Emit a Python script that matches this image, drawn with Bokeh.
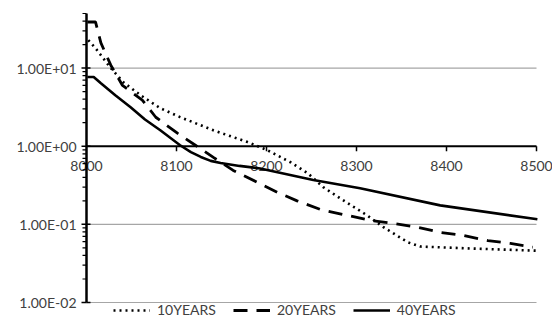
import math
from bokeh.plotting import figure
from bokeh.models import Range1d, Legend, LegendItem
from bokeh.core.properties import value
from bokeh.embed import file_html
from bokeh.resources import INLINE

# ---- data ----
x10 = [8002, 8010, 8027, 8041, 8060, 8082, 8104, 8141, 8179, 8201, 8227, 8246,
       8263, 8282, 8312, 8330, 8357, 8371, 8430, 8501]
y10 = [22.8, 18.0, 10.0, 6.6, 4.5, 3.07, 2.36, 1.6, 1.13, 0.89, 0.62, 0.45,
       0.30, 0.215, 0.13, 0.092, 0.059, 0.052, 0.049, 0.046]

x20 = [8001, 8010, 8016, 8027, 8040, 8062, 8077, 8101, 8121, 8141, 8163, 8190,
       8212, 8234, 8260, 8290, 8316, 8341, 8368, 8393, 8419, 8446, 8471, 8496]
y20 = [38.9, 39.0, 21.0, 10.9, 6.0, 3.9, 2.35, 1.47, 1.03, 0.72, 0.49, 0.345,
       0.257, 0.20, 0.155, 0.13, 0.112, 0.103, 0.092, 0.079, 0.072, 0.062, 0.057, 0.051]

x40 = [8001, 8008, 8016, 8032, 8049, 8065, 8082, 8104, 8116, 8127, 8138, 8149,
       8170, 8193, 8252, 8304, 8393, 8501]
y40 = [7.7, 7.7, 6.4, 4.5, 3.16, 2.2, 1.6, 1.03, 0.84, 0.73, 0.65, 0.61,
       0.56, 0.52, 0.37, 0.29, 0.175, 0.116]

x_ticks = [8000, 8100, 8200, 8300, 8400, 8500]
x_tick_labels = ["8000", "8100", "8200", "8300", "8400", "8500"]
x_cross = 1.0          # x axis crosses the y axis at 1.00E+00
y_ticks = [0.01, 0.1, 1, 10]
y_tick_labels = ["1.00E-02", "1.00E-01", "1.00E+00", "1.00E+01"]
y_minor = [m * 10.0 ** e for e in (-2, -1, 0, 1) for m in range(2, 10) if m * 10.0 ** e <= 50]

X0, X1 = 8000, 8500     # plotted x extent
Y0, Y1 = 0.01, 50       # plotted y extent

FONT = "Lato"
TXT = "#404040"

# ---- layout (screen pixels) ----
W, H = 552, 323
L, R, T, B = 86, 536, 13, 302            # plot area edges
ppx = (R - L) / (X1 - X0)                 # px per x unit
ppd = (B - T) / (math.log10(Y1) - math.log10(Y0))   # px per decade
xr = Range1d(X0 - L / ppx, X1 + (W - R) / ppx)
yr = Range1d(10 ** (math.log10(Y0) - (H - B) / ppd), 10 ** (math.log10(Y1) + T / ppd))

p = figure(width=W, height=H, y_axis_type="log", x_range=xr, y_range=yr,
           output_backend="svg", toolbar_location=None,
           x_axis_location=None, y_axis_location=None,
           min_border=0)
p.outline_line_color = None
p.grid.visible = False

# gridlines (gray) across the plot area
gy = [t for t in y_ticks if t != x_cross]
p.segment(x0=[X0] * len(gy), y0=gy, x1=[X1] * len(gy), y1=gy,
          line_color="#a6a6a6", line_width=1.2)

# x axis drawn at y = 1
p.segment(x0=[X0], y0=[x_cross], x1=[X1], y1=[x_cross], line_color="black", line_width=2)
xt_len = 10 ** (-5 / ppd)
p.segment(x0=x_ticks[1:], y0=[x_cross] * 5, x1=x_ticks[1:], y1=[x_cross * xt_len] * 5,
          line_color="black", line_width=1.5)
p.text(x=x_ticks, y=[x_cross] * len(x_ticks), text=x_tick_labels,
       text_font=value(FONT), text_font_size="14px", text_color=TXT,
       text_align="center", text_baseline="middle", y_offset=20)

# y axis
p.segment(x0=[X0] * len(y_ticks), y0=y_ticks, x1=[X0 + 4 / ppx] * len(y_ticks), y1=y_ticks,
          line_color="black", line_width=1.5)
p.segment(x0=[X0 - 5 / ppx] * len(y_ticks), y0=y_ticks, x1=[X0] * len(y_ticks), y1=y_ticks,
          line_color="black", line_width=1.5)
p.segment(x0=[X0 - 4 / ppx] * len(y_minor), y0=y_minor, x1=[X0] * len(y_minor), y1=y_minor,
          line_color="black", line_width=1.2)
p.segment(x0=[X0], y0=[Y0], x1=[X0], y1=[Y1], line_color="black", line_width=2.5)
p.text(x=[X0] * len(y_ticks), y=y_ticks, text=y_tick_labels,
       text_font=value(FONT), text_font_size="14px", text_color=TXT,
       text_align="right", text_baseline="middle", x_offset=-10)

# series
r10 = p.line(x10, y10, line_color="black", line_width=2.6, line_dash="2 4")
r20 = p.line(x20, y20, line_color="black", line_width=2.8, line_dash="14 9")
r40 = p.line(x40, y40, line_color="black", line_width=2.6)

legend = Legend(items=[LegendItem(label="10YEARS", renderers=[r10]),
                       LegendItem(label="20YEARS", renderers=[r20]),
                       LegendItem(label="40YEARS", renderers=[r40])],
                orientation="horizontal", location=(113, 5),
                label_text_font=FONT, label_text_font_size="14px",
                label_text_color=TXT, glyph_width=37, glyph_height=12,
                label_height=12, label_standoff=7, spacing=17,
                padding=2, margin=0, border_line_color=None,
                background_fill_alpha=0)
p.add_layout(legend)

open("out.html", "w").write(file_html(p, INLINE))
